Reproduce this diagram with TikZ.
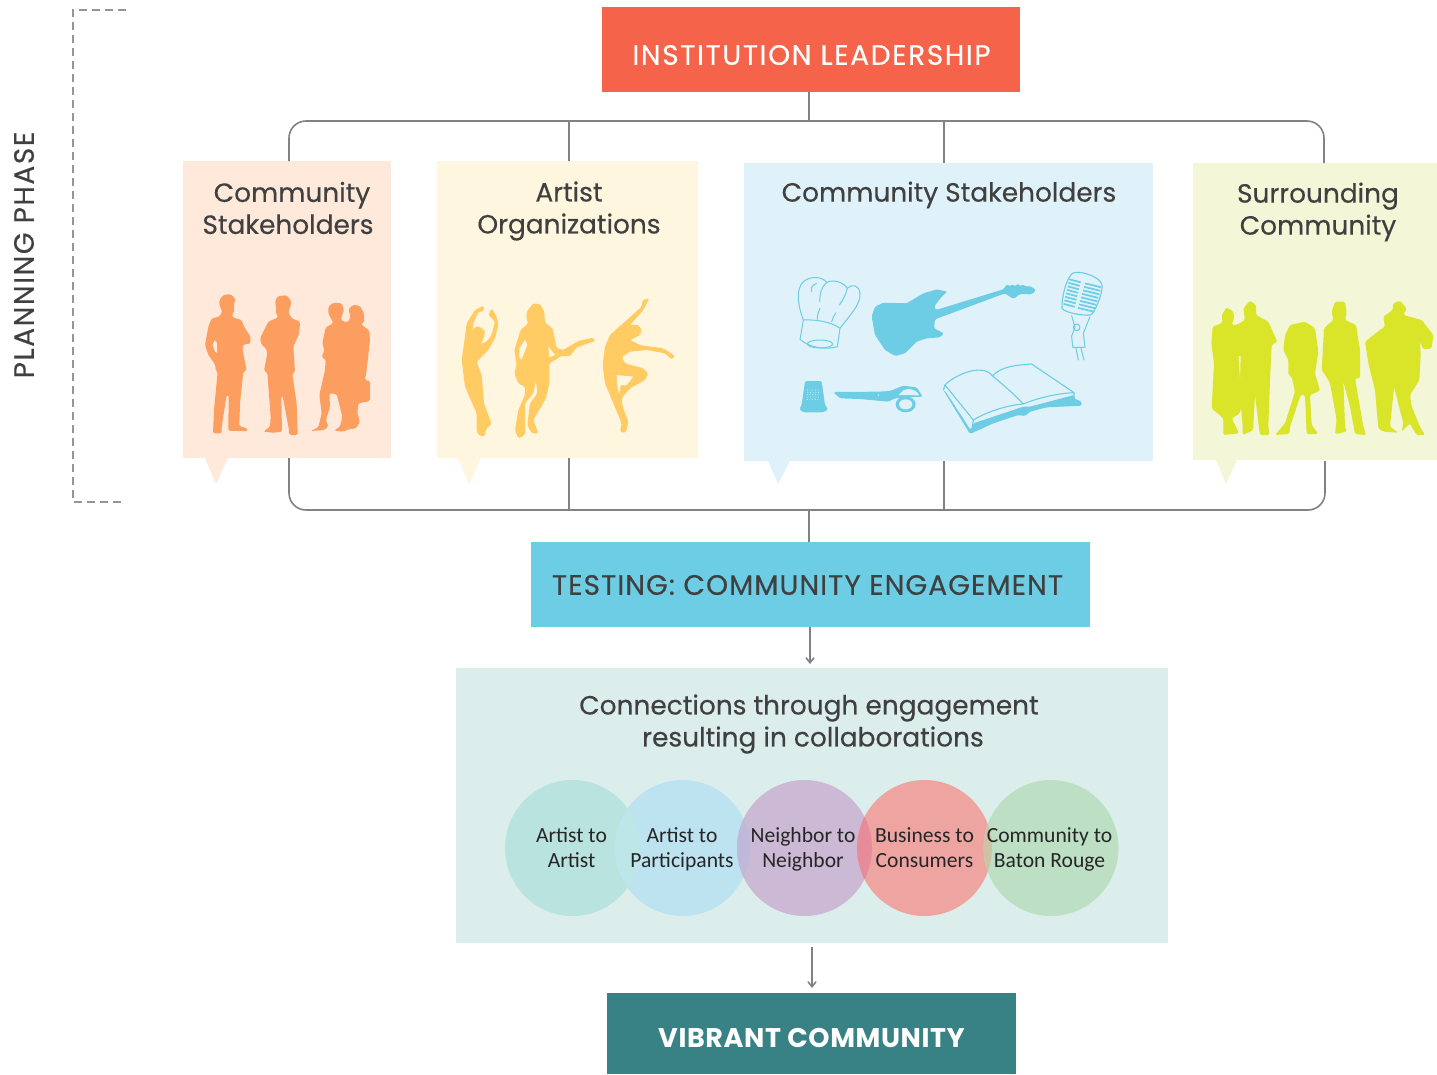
\documentclass[tikz,border=0pt]{standalone}
\usepackage{fontspec}
\setmainfont{Poppins}
\newfontfamily\medf{Poppins}[FakeBold=0.35]
\newfontfamily\medfA{Poppins}[FakeBold=0.35,LetterSpace=5.8]
\newfontfamily\medfB{Poppins}[FakeBold=0.35,LetterSpace=3.8]
\newfontfamily\medfC{Poppins}[FakeBold=0.35,LetterSpace=5.6]
\newfontfamily\medfD{Poppins}[LetterSpace=2.2]
\newfontfamily\circfont{Carlito}
\usetikzlibrary{arrows.meta,shapes.geometric}
\definecolor{cLead}{HTML}{F5634A}
\definecolor{cTest}{HTML}{6CCDE4}
\definecolor{cConn}{HTML}{DBEEEB}
\definecolor{cVib}{HTML}{388285}
\definecolor{cOr}{HTML}{FEE9DB}
\definecolor{cYe}{HTML}{FFF6E0}
\definecolor{cBl}{HTML}{E0F2F9}
\definecolor{cGr}{HTML}{F3F7D8}
\definecolor{sOr}{HTML}{FC9E5F}
\definecolor{sYe}{HTML}{FFCB62}
\definecolor{sBl}{HTML}{6CCDE4}
\definecolor{sGr}{HTML}{DAE428}
\definecolor{cTxt}{HTML}{404040}
\definecolor{cLine}{HTML}{808285}
\definecolor{e1}{HTML}{B9E3DF}
\definecolor{e2}{HTML}{BDE3F1}
\definecolor{e3}{HTML}{CBB9D5}
\definecolor{e4}{HTML}{EEA5A1}
\definecolor{e5}{HTML}{BDE0C5}
\definecolor{l12}{HTML}{BDE6E9}
\definecolor{l23}{HTML}{BDB9D9}
\definecolor{l34}{HTML}{E68C98}
\definecolor{l45}{HTML}{CBC3A6}
\tikzset{
  box/.style={inner sep=0pt,outer sep=0pt,anchor=north west},
  head/.style={font=\medf\fontsize{26.4}{32}\selectfont,text=cTxt,align=center,inner sep=0pt},
  banner/.style={inner sep=0pt},
  conn/.style={draw=cLine,line width=1.6pt},
  arrowc/.style={conn,-{Straight Barb[length=5pt,width=8pt]}},
  bub/.style={ellipse,minimum width=135pt,minimum height=136pt,inner sep=0pt,outer sep=0pt},
  bubtxt/.style={font=\circfont\fontsize{21.6}{25}\selectfont,text=black!85,align=center,inner sep=0pt},
  sil/.style={rounded corners=1.5pt},
  art/.style={draw=sBl,line width=1pt,line cap=round,line join=round},
}
\newcommand{\rectnode}[6]{\node[box,fill=#2,minimum width=#5pt,minimum height=#6pt] (#1) at (#3,#4) {};}
\begin{document}
\begin{tikzpicture}[x=1pt,y=-1pt]
\useasboundingbox (0,0) rectangle (1437,1074);
\fill[white] (0,0) rectangle (1437,1074);

% panels
\rectnode{pOr}{cOr}{183}{161}{208}{297}
\rectnode{pYe}{cYe}{437}{161}{261}{297}
\rectnode{pBl}{cBl}{744}{163}{409}{298}
\rectnode{pGr}{cGr}{1193}{163}{244}{297}
\fill[cOr] (205,458) -- (228,458) -- (216,484) -- cycle;
\fill[cYe] (458,458) -- (481,458) -- (469,484) -- cycle;
\fill[cBl] (768,461) -- (790,461) -- (778,484) -- cycle;
\fill[cGr] (1216,460) -- (1237,460) -- (1226,484) -- cycle;

% banners
\rectnode{lead}{cLead}{602}{7}{418}{85}
\rectnode{test}{cTest}{531}{542}{559}{85}
\rectnode{conb}{cConn}{456}{668}{712}{275}
\rectnode{vib}{cVib}{607}{993}{409}{81}

\node[banner,text=white,font=\medfA\fontsize{28}{32}\selectfont] (leadT) at (811.5,55) {INSTITUTION LEADERSHIP};
\node[banner,text=cTxt,font=\medfB\fontsize{28}{32}\selectfont] (testT) at (807.5,585) {TESTING: COMMUNITY ENGAGEMENT};
\node[banner,text=white,font=\medfD\bfseries\fontsize{27}{32}\selectfont] (vibT) at (811.5,1038) {VIBRANT COMMUNITY};
\node[head] (conT) at (809,724) {Connections through engagement\\\hspace*{8pt}resulting in collaborations};
\node[head] (h1) at (288,208) {\hspace*{8pt}Community\\Stakeholders};
\node[head] (h2) at (569,211) {Artist\\Organizations};
\node[head] (h3) at (949,195) {Community Stakeholders};
\node[head] (h4) at (1318,212) {Surrounding\\Community};
\node[font=\medfC\fontsize{28}{32}\selectfont,text=cTxt,rotate=90,inner sep=0pt] (plan) at (24,255) {PLANNING PHASE};

% connectors
\coordinate (hubT) at (809,121);
\coordinate (tl) at (289,161);
\coordinate (tr) at (1324,163);
\coordinate (tA) at (569,121);
\coordinate (tB) at (944,121);
\coordinate (hubB) at (809,510);
\coordinate (bl) at (289,458);
\coordinate (br) at (1325,461);
\coordinate (bA) at (569,510);
\coordinate (bB) at (944,510);
\draw[conn] (lead.south -| hubT) -- (hubT);
\draw[conn,rounded corners=17pt] (tl) -- (289,121) -- (1324,121) -- (tr);
\draw[conn] (tA) -- (pYe.north -| tA);
\draw[conn] (tB) -- (pBl.north -| tB);
\draw[conn,rounded corners=17pt] (bl) -- (289,510) -- (1325,510) -- (br);
\draw[conn] (bA) -- (pYe.south -| bA);
\draw[conn] (bB) -- (pBl.south -| bB);
\draw[conn] (hubB) -- (test.north -| hubB);
\coordinate (a1) at (810,627);
\coordinate (a1e) at (810,664);
\coordinate (a2) at (812,947);
\coordinate (a2e) at (812,988);
\draw[arrowc] (a1) -- (a1e);
\draw[arrowc] (a2) -- (a2e);
\coordinate (d1) at (126,10);
\coordinate (d2) at (124,502);
\draw[draw=cLine!85,line width=1.3pt,dash pattern=on 8pt off 5pt] (d1) -- (73,10) -- (73,502) -- (d2);

% bubbles
\node[bub,fill=e1] (c1) at (572.5,848) {};
\node[bub,fill=e2] (c2) at (682.5,848) {};
\node[bub,fill=e3] (c3) at (804.5,848) {};
\node[bub,fill=e4] (c4) at (924.5,848) {};
\node[bub,fill=e5] (c5) at (1051,848) {};
\begin{scope}\clip (572.5,848) ellipse [x radius=67.5,y radius=68];\fill[l12] (682.5,848) ellipse [x radius=67.5,y radius=68];\end{scope}
\begin{scope}\clip (682.5,848) ellipse [x radius=67.5,y radius=68];\fill[l23] (804.5,848) ellipse [x radius=67.5,y radius=68];\end{scope}
\begin{scope}\clip (804.5,848) ellipse [x radius=67.5,y radius=68];\fill[l34] (924.5,848) ellipse [x radius=67.5,y radius=68];\end{scope}
\begin{scope}\clip (924.5,848) ellipse [x radius=67.5,y radius=68];\fill[l45] (1051,848) ellipse [x radius=67.5,y radius=68];\end{scope}
\node[bubtxt] (t1) at (571.5,848) {Artist to\\Artist};
\node[bubtxt] (t2) at (682,849) {Artist to\\Participants};
\node[bubtxt] (t3) at (803,849) {Neighbor to\\Neighbor};
\node[bubtxt] (t4) at (924.5,848) {Business to\\Consumers};
\node[bubtxt] (t5) at (1049.5,849) {Community to\\Baton Rouge};

% orange and yellow silhouettes
\begin{scope}[shift={(180,270)},scale=1/3]
\fill[sOr,sil] (118,92)--(128,76)--(150,72)--(166,85)--(162,105)--(163,125)--(155,135)--(160,143)--(185,150)--(192,170)--(212,200)--(210,222)--(192,222)--(187,235)--(200,302)--(190,305)--(180,400)--(178,468)--(203,476)--(202,484)--(145,482)--(146,375)--(140,375)--(125,470)--(125,490)--(99,490)--(102,420)--(113,305)--(108,303)--(105,283)--(85,255)--(75,225)--(85,170)--(95,145)--(118,140)--(127,125)--(118,105)--cycle;
\fill[cOr] (103,212)--(110,215)--(112,248)--(105,245)--(98,225)--cycle;
\fill[sOr,sil] (285,92)--(295,78)--(320,76)--(332,90)--(333,105)--(325,127)--(335,145)--(360,155)--(358,190)--(340,230)--(345,305)--(337,312)--(350,400)--(353,495)--(328,495)--(327,480)--(308,378)--(304,378)--(306,485)--(280,488)--(250,485)--(270,470)--(272,440)--(262,308)--(252,302)--(262,250)--(258,235)--(245,225)--(240,205)--(265,155)--(295,142)--(288,130)--(287,100)--cycle;
\fill[sOr,sil] (445,110)--(460,98)--(485,100)--(492,118)--(482,150)--(500,157)--(505,155)--(512,140)--(505,118)--(520,104)--(540,108)--(552,130)--(552,158)--(542,162)--(568,182)--(570,210)--(560,300)--(555,330)--(570,333)--(570,393)--(535,400)--(532,430)--(540,455)--(528,475)--(505,478)--(490,485)--(462,482)--(480,470)--(487,440)--(470,372)--(448,370)--(450,410)--(438,450)--(445,470)--(432,480)--(392,483)--(415,472)--(425,430)--(418,375)--(435,300)--(437,268)--(425,262)--(433,240)--(427,220)--(437,172)--(460,160)--(445,130)--cycle;
\fill[sYe,sil] (885,120)--(912,107)--(910,125)--(895,125)--(880,160)--(875,210)--(880,175)--(895,168)--(915,182)--(912,205)--(900,222)--(920,215)--(935,195)--(945,155)--(925,135)--(935,115)--(950,140)--(955,165)--(945,205)--(925,240)--(890,275)--(905,315)--(912,400)--(935,462)--(918,478)--(915,498)--(900,498)--(890,485)--(890,430)--(855,350)--(845,270)--(855,200)--(860,160)--cycle;
\fill[sYe,sil] (1040,125)--(1060,100)--(1080,102)--(1093,125)--(1095,158)--(1118,175)--(1125,210)--(1130,235)--(1150,240)--(1195,213)--(1240,203)--(1245,213)--(1225,220)--(1190,232)--(1170,258)--(1145,258)--(1108,280)--(1108,340)--(1098,385)--(1060,450)--(1075,490)--(1055,490)--(1042,465)--(1050,400)--(1072,370)--(1068,330)--(1060,370)--(1035,400)--(1035,495)--(1015,505)--(1005,480)--(1015,420)--(1035,375)--(1035,350)--(1015,340)--(1003,310)--(1010,285)--(1003,240)--(1022,180)--(1045,160)--(1040,150)--cycle;
\fill[cYe] (1035,210)--(1042,225)--(1025,268)--(1018,265)--(1018,235)--cycle;
\fill[cYe] (1105,230)--(1125,255)--(1108,262)--cycle;
\fill[sYe,sil] (1385,110)--(1388,90)--(1408,85)--(1390,120)--(1350,165)--(1375,165)--(1385,180)--(1380,195)--(1350,210)--(1380,225)--(1450,235)--(1485,258)--(1475,268)--(1455,250)--(1400,240)--(1350,245)--(1325,262)--(1335,280)--(1390,295)--(1405,310)--(1395,330)--(1350,355)--(1325,385)--(1328,410)--(1345,455)--(1338,487)--(1320,487)--(1325,460)--(1300,400)--(1275,340)--(1268,285)--(1275,230)--(1290,195)--(1335,155)--cycle;
\fill[cYe] (1310,315)--(1360,320)--(1340,345)--(1322,345)--(1318,372)--(1312,350)--cycle;
\end{scope}

% green silhouettes
\begin{scope}[shift={(1190,280)},scale=1/3]
\fill[sGr,sil] (95,105)--(110,82)--(130,95)--(132,115)--(125,135)--(140,135)--(165,120)--(160,85)--(180,62)--(198,75)--(198,105)--(235,125)--(262,185)--(245,195)--(240,300)--(235,435)--(238,465)--(210,465)--(205,430)--(195,345)--(190,430)--(190,450)--(158,465)--(158,440)--(153,380)--(150,400)--(125,415)--(147,460)--(100,465)--(100,415)--(65,385)--(72,250)--(64,190)--(68,140)--(98,128)--cycle;
\fill[cGr] (146,228)--(152,228)--(150,300)--cycle;
\fill[sGr,sil] (285,165)--(300,135)--(345,125)--(375,145)--(385,215)--(375,280)--(390,332)--(360,345)--(365,435)--(385,462)--(350,462)--(345,345)--(332,345)--(300,440)--(298,462)--(255,465)--(285,430)--(315,335)--(305,290)--(295,285)--(295,240)--(280,210)--cycle;
\fill[sGr,sil] (425,95)--(435,65)--(465,65)--(470,100)--(465,120)--(498,135)--(510,210)--(510,295)--(495,295)--(520,440)--(528,465)--(495,462)--(480,380)--(460,305)--(465,440)--(470,455)--(435,462)--(440,420)--(420,310)--(412,295)--(395,270)--(402,145)--(430,120)--cycle;
\fill[sGr,sil] (580,110)--(608,90)--(610,70)--(630,62)--(650,85)--(640,105)--(695,120)--(730,165)--(725,205)--(700,208)--(690,185)--(692,225)--(688,300)--(660,345)--(665,380)--(690,440)--(705,465)--(680,465)--(665,440)--(660,430)--(635,455)--(640,430)--(612,320)--(600,440)--(625,458)--(580,455)--(565,445)--(555,330)--(535,250)--(525,185)--(570,150)--(585,140)--cycle;
\end{scope}

% blue objects
\begin{scope}[shift={(760,250)},scale=1/3]
% guitar
\fill[sBl,sil] (335,200)--(345,170)--(370,158)--(440,160)--(490,130)--(530,118)--(562,125)--(545,140)--(522,170)--(528,180)--(730,118)--(742,102)--(748,110)--(758,102)--(764,110)--(775,100)--(780,110)--(790,102)--(795,110)--(810,108)--(828,120)--(815,133)--(780,132)--(760,147)--(735,130)--(525,208)--(522,235)--(552,250)--(540,262)--(500,265)--(470,275)--(435,310)--(405,318)--(375,300)--(345,255)--cycle;
% chef hat
\draw[art] (130,210) .. controls (115,170) and (105,120) .. (130,95) .. controls (150,78) and (185,78) .. (200,97) .. controls (220,88) and (250,95) .. (262,115) .. controls (275,100) and (298,105) .. (300,130) .. controls (303,165) and (265,200) .. (240,235);
\draw[art] (130,210) .. controls (165,208) and (215,215) .. (240,235) -- (232,290) .. controls (200,300) and (150,295) .. (120,268) -- (130,210);
\draw[art] (180,282) ellipse [x radius=38,y radius=12];
\draw[art] (155,125) .. controls (150,110) and (160,105) .. (170,100);
\draw[art] (180,155) .. controls (178,130) and (185,110) .. (200,97);
\draw[art] (238,165) .. controls (250,150) and (258,130) .. (262,115);
\draw[art] (172,208) .. controls (172,195) and (175,185) .. (180,175);
\draw[art] (215,215) .. controls (218,205) and (222,195) .. (228,188);
% microphone
\draw[art,line width=1.1pt] (906,175) .. controls (905,140) and (918,90) .. (935,72) .. controls (950,58) and (1010,75) .. (1025,100) .. controls (1032,120) and (1010,175) .. (995,193) .. controls (985,200) and (915,190) .. (906,175);
\foreach \i in {0,...,7}{
  \draw[sBl,line width=1.7pt] ({928-2.5*\i},{88+10.5*\i}) -- ({962-2.5*\i},{97+10.5*\i});
  \draw[sBl,line width=1.7pt] ({975-3*\i},{100+10.5*\i}) -- ({1024-3*\i},{112+10.5*\i});
}
\draw[art] (935,197) -- (945,232) -- (935,258) -- (938,292) -- (975,292) -- (970,250) -- (990,200);
\draw[art] (950,232) circle [radius=10];
\draw[art] (948,295) -- (955,330);
\draw[art] (963,295) -- (972,330);
% thimble
\fill[sBl,sil] (135,393)--(185,393)--(195,465)--(205,478)--(190,487)--(130,487)--(118,478)--(125,465)--cycle;
\foreach \u in {0,...,4}\foreach \v in {0,...,4}{
  \fill[cBl] ({142+8*\u+1.5*mod(\v,2)},{420+7*\v}) circle [radius=1.5];
}
% scissors
\fill[sBl,sil] (220,426)--(355,425)--(390,423)--(430,407)--(470,412)--(488,440)--(440,442)--(405,445)--(385,455)--(300,447)--(240,445)--cycle;
\fill[cBl] (432,420) .. controls (450,410) and (475,425) .. (478,436) -- (415,435) -- cycle;
\fill[sBl] (437,463) ellipse [x radius=30,y radius=24];
\fill[cBl] (437,463) ellipse [x radius=20,y radius=15];
\fill[cBl] (355,435) circle [radius=2.5];
% book
\fill[sBl,sil] (550,420)--(630,552)--(700,520)--(775,495)--(795,498)--(810,485)--(860,472)--(965,467)--(965,455)--(942,445)--(942,435)--(810,470)--(790,470)--(640,520)--(632,540)--(557,425)--cycle;
\draw[art,line width=1.1pt] (555,405) .. controls (590,370) and (670,340) .. (698,378) .. controls (720,350) and (770,345) .. (815,342) -- (942,428) -- (942,445);
\draw[art,line width=1.1pt] (555,405) -- (640,510) .. controls (690,480) and (750,465) .. (790,462) .. controls (760,430) and (730,405) .. (698,378);
\draw[art,line width=1.1pt] (790,462) .. controls (830,445) and (890,430) .. (942,428);
\draw[art,line width=1.1pt] (555,405) -- (550,420);
\draw[art,line width=1.1pt] (640,510) -- (635,545);
\end{scope}
\end{tikzpicture}
\end{document}
